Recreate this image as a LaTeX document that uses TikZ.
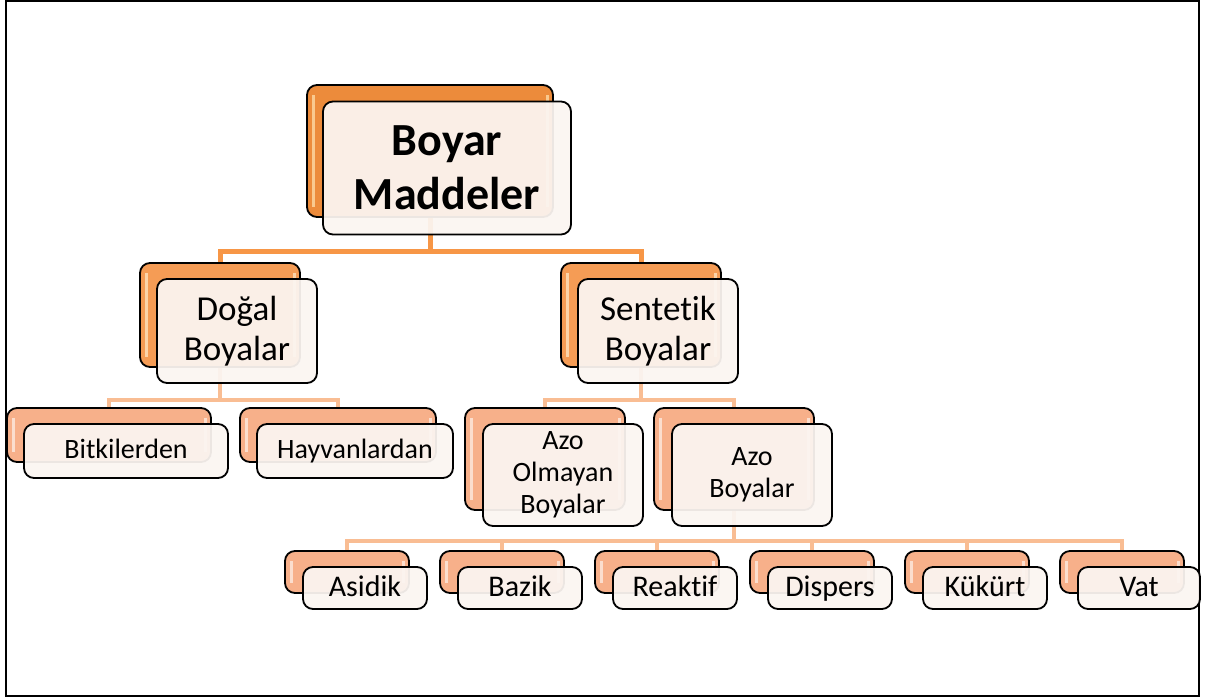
\documentclass[tikz,border=0pt]{standalone}
\usepackage{fontspec}
\setmainfont[Ligatures=NoCommon]{Carlito}
\definecolor{orTop}{HTML}{EC8B3B}
\definecolor{orMid}{HTML}{F59C55}
\definecolor{orLow}{HTML}{F7B08A}
\definecolor{hiTop}{HTML}{FDD9A4}
\definecolor{hiMid}{HTML}{FEE2BE}
\definecolor{hiLow}{HTML}{FDEAE0}
\definecolor{linkTop}{HTML}{F79646}
\definecolor{linkLow}{HTML}{F9BD93}
\definecolor{paper}{HTML}{FBF5F1}
\pgfdeclarelayer{background}
\pgfsetlayers{background,main}
\tikzset{backbox/.style 2 args={draw=black, line width=1.8pt, rounded corners=10pt, fill=#1,
  path picture={
    \draw [#2, line width=3pt, opacity=0.8] ([xshift=6pt,yshift=-10pt]path picture bounding box.north west) -- ([xshift=6pt,yshift=10pt]path picture bounding box.south west);
    \draw [#2, line width=3pt, opacity=0.8] ([xshift=-6pt,yshift=-10pt]path picture bounding box.north east) -- ([xshift=-6pt,yshift=10pt]path picture bounding box.south east);
  }}}
\begin{document}
\begin{tikzpicture}[x=1pt,y=1pt]
\tikzstyle{every node}+=[inner sep=0pt]
\tikzstyle{frontbox}=[draw=black, line width=1.8pt, rounded corners=10pt, fill=paper, fill opacity=0.94, text opacity=1, align=center]
\tikzstyle{smalltext}=[font=\fontsize{28}{32}\selectfont, text height=20pt, text depth=5pt]
\tikzstyle{leaftext}=[font=\fontsize{30}{34}\selectfont, text height=22pt, text depth=5pt]
\tikzstyle{toplink}=[linkTop, line width=5pt]
\tikzstyle{sublink}=[linkLow, line width=4.5pt]
\useasboundingbox (0,0) rectangle (1217,-699);
\draw [black, line width=2pt] (6,-1) rectangle (1199,-696);
% top
\node (boyarB) [backbox={orTop}{hiTop}, minimum width=246pt, minimum height=132pt] at (430,-151) {};
\node (boyarF) [frontbox, minimum width=248pt, minimum height=133pt, font=\fontsize{46}{54}\selectfont\bfseries] at (447,-168) {Boyar\\Maddeler};
% second row
\node (dogalB) [backbox={orMid}{hiMid}, minimum width=160pt, minimum height=104pt] at (220,-315) {};
\node (dogalF) [frontbox, minimum width=160pt, minimum height=104pt, font=\fontsize{35}{40}\selectfont] at (237,-331) {Doğal\\Boyalar};
\node (sentB) [backbox={orMid}{hiMid}, minimum width=160pt, minimum height=104pt] at (641,-315) {};
\node (sentF) [frontbox, minimum width=160pt, minimum height=104pt, font=\fontsize{35}{40}\selectfont] at (658,-331) {Sentetik\\Boyalar};
% third row
\node (bitkB) [backbox={orLow}{hiLow}, minimum width=204pt, minimum height=54pt] at (109,-435) {};
\node (bitkF) [frontbox, smalltext, minimum width=204pt, minimum height=54pt] at (126,-451) {Bitkilerden};
\node (hayvB) [backbox={orLow}{hiLow}, minimum width=196pt, minimum height=54pt] at (338,-435) {};
\node (hayvF) [frontbox, smalltext, minimum width=196pt, minimum height=54pt] at (355,-451) {Hayvanlardan};
\node (azoOB) [backbox={orLow}{hiLow}, minimum width=160pt, minimum height=102pt] at (545,-459) {};
\node (azoOF) [frontbox, minimum width=160pt, minimum height=102pt, font=\fontsize{28}{32}\selectfont] at (563,-475) {Azo\\Olmayan\\Boyalar};
\node (azoB) [backbox={orLow}{hiLow}, minimum width=160pt, minimum height=102pt] at (734,-459) {};
\node (azoF) [frontbox, minimum width=160pt, minimum height=102pt, font=\fontsize{28}{32}\selectfont] at (752,-475) {Azo\\Boyalar};
% bottom row
\node (asidikB) [backbox={orLow}{hiLow}, minimum width=124pt, minimum height=42pt] at (347,-572) {};
\node (asidikF) [frontbox, leaftext, minimum width=124pt, minimum height=42pt] at (365,-588) {Asidik};
\node (bazikB) [backbox={orLow}{hiLow}, minimum width=124pt, minimum height=42pt] at (502,-572) {};
\node (bazikF) [frontbox, leaftext, minimum width=124pt, minimum height=42pt] at (520,-588) {Bazik};
\node (reakB) [backbox={orLow}{hiLow}, minimum width=124pt, minimum height=42pt] at (657,-572) {};
\node (reakF) [frontbox, leaftext, minimum width=124pt, minimum height=42pt] at (675,-588) {Reaktif};
\node (dispB) [backbox={orLow}{hiLow}, minimum width=124pt, minimum height=42pt] at (812,-572) {};
\node (dispF) [frontbox, leaftext, minimum width=124pt, minimum height=42pt] at (830,-588) {Dispers};
\node (kukB) [backbox={orLow}{hiLow}, minimum width=124pt, minimum height=42pt] at (967,-572) {};
\node (kukF) [frontbox, leaftext, minimum width=124pt, minimum height=42pt] at (985,-588) {Kükürt};
\node (vatB) [backbox={orLow}{hiLow}, minimum width=124pt, minimum height=42pt] at (1122,-572) {};
\node (vatF) [frontbox, leaftext, minimum width=122pt, minimum height=42pt] at (1139,-588) {Vat};
\begin{pgfonlayer}{background}
\draw [toplink] (boyarB.south) -- ++(0,-34) -| (dogalB.north);
\draw [toplink] (boyarB.south) -- ++(0,-34) -| (sentB.north);
\draw [sublink] (dogalB.south) -- ++(0,-32) -| (bitkB.north);
\draw [sublink] (dogalB.south) -- ++(0,-32) -| (hayvB.north);
\draw [sublink] (sentB.south) -- ++(0,-32) -| (azoOB.north);
\draw [sublink] (sentB.south) -- ++(0,-32) -| (azoB.north);
\draw [sublink] (azoB.south) -- ++(0,-30) -| (asidikB.north);
\draw [sublink] (azoB.south) -- ++(0,-30) -| (bazikB.north);
\draw [sublink] (azoB.south) -- ++(0,-30) -| (reakB.north);
\draw [sublink] (azoB.south) -- ++(0,-30) -| (dispB.north);
\draw [sublink] (azoB.south) -- ++(0,-30) -| (kukB.north);
\draw [sublink] (azoB.south) -- ++(0,-30) -| (vatB.north);
\end{pgfonlayer}
\end{tikzpicture}
\end{document}
